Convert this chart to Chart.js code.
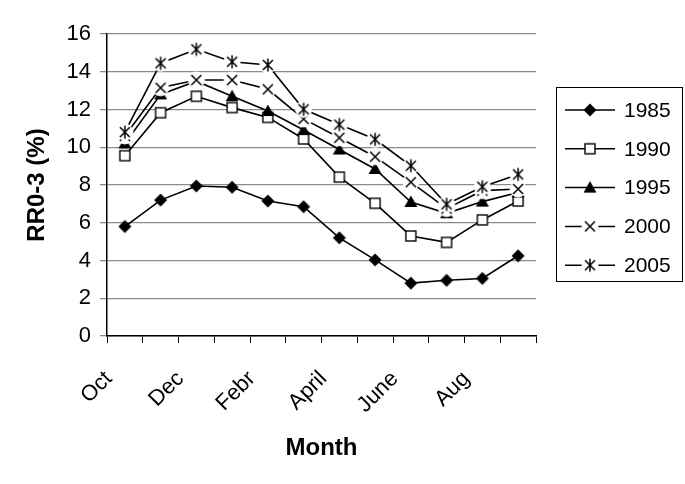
<!DOCTYPE html>
<html>
<head>
<meta charset="utf-8">
<script src="https://cdn.jsdelivr.net/npm/chart.js@4/dist/chart.umd.min.js"></script>
<style>
  html, body { margin: 0; padding: 0; background: #fff; }
  #wrap { width: 685px; height: 484px; }
</style>
</head>
<body>
<div id="wrap"><canvas id="c" width="685" height="484"></canvas></div>
<script>
// ---- data ----
const months = ['Oct','Nov','Dec','Jan','Febr','March','April','May','June','July','Aug','Sept'];
const tickLabels = ['Oct','','Dec','','Febr','','April','','June','','Aug',''];
const seriesNames = ['1985','1990','1995','2000','2005'];
const s1985 = [5.8, 7.2, 7.95, 7.88, 7.15, 6.85, 5.2, 4.03, 2.8, 2.95, 3.05, 4.25];
const s1990 = [9.55, 11.83, 12.7, 12.1, 11.58, 10.44, 8.42, 7.03, 5.3, 4.96, 6.15, 7.15];
const s1995 = [10.2, 12.8, 13.5, 12.7, 11.92, 10.91, 9.88, 8.85, 7.1, 6.5, 7.12, 7.6];
const s2000 = [10.6, 13.15, 13.56, 13.56, 13.07, 11.5, 10.5, 9.5, 8.15, 6.75, 7.7, 7.79];
const s2005 = [10.8, 14.45, 15.19, 14.53, 14.36, 12.01, 11.2, 10.42, 9.02, 6.98, 7.91, 8.56];
const yTitle = 'RR0-3 (%)';
const xTitle = 'Month';

const FONT = "'Liberation Sans', Arial, Helvetica, sans-serif";

// ---- marker images ----
function makeMarker(type) {
  const c = document.createElement('canvas');
  c.width = 24; c.height = 24;
  const g = c.getContext('2d');
  const cx = 12, cy = 12;
  g.lineWidth = 1.5;
  g.strokeStyle = '#000';
  g.fillStyle = '#000';
  if (type === 'diamond') {
    g.beginPath();
    g.moveTo(cx, cy - 6.5); g.lineTo(cx + 6.5, cy); g.lineTo(cx, cy + 6.5); g.lineTo(cx - 6.5, cy);
    g.closePath(); g.fill();
  } else if (type === 'square') {
    g.fillStyle = '#fff';
    g.fillRect(cx - 5, cy - 5, 10, 10);
    g.lineWidth = 1.4;
    g.strokeRect(cx - 5, cy - 5, 10, 10);
  } else if (type === 'triangle') {
    g.beginPath();
    g.moveTo(cx, cy - 6.5); g.lineTo(cx + 6.5, cy + 5); g.lineTo(cx - 6.5, cy + 5);
    g.closePath(); g.fill();
  } else if (type === 'x' || type === 'star') {
    g.fillStyle = '#fff';
    g.beginPath(); g.arc(cx, cy, 8.5, 0, Math.PI * 2); g.fill();
    g.beginPath();
    g.moveTo(cx - 5, cy - 5); g.lineTo(cx + 5, cy + 5);
    g.moveTo(cx + 5, cy - 5); g.lineTo(cx - 5, cy + 5);
    if (type === 'star') { g.moveTo(cx, cy - 6.5); g.lineTo(cx, cy + 6.5); }
    g.stroke();
  }
  return c;
}
const markers = [makeMarker('diamond'), makeMarker('square'), makeMarker('triangle'), makeMarker('x'), makeMarker('star')];
const allSeries = [s1985, s1990, s1995, s2000, s2005];

const datasets = allSeries.map((d, i) => ({
  label: seriesNames[i],
  data: d,
  borderColor: '#000',
  backgroundColor: '#000',
  borderWidth: 1.6,
  tension: 0,
  fill: false,
  pointStyle: markers[i],
  pointRadius: 6,
  pointHoverRadius: 6,
  order: 4 - i
}));

// ---- custom boxed legend ----
const boxedLegend = {
  id: 'boxedLegend',
  afterDraw(chart) {
    const ctx = chart.ctx;
    ctx.save();
    ctx.strokeStyle = '#000';
    ctx.lineWidth = 1;
    ctx.strokeRect(556.5, 87.5, 126, 194);
    ctx.font = '21px ' + FONT;
    ctx.textBaseline = 'middle';
    ctx.textAlign = 'left';
    ctx.fillStyle = '#000';
    chart.data.datasets.forEach((ds, i) => {
      const y = 110 + i * 38.8;
      ctx.beginPath();
      ctx.lineWidth = 1.5;
      ctx.moveTo(565, y); ctx.lineTo(615, y);
      ctx.stroke();
      const m = ds.pointStyle;
      ctx.drawImage(m, 590 - m.width / 2, y - m.height / 2);
      ctx.fillText(ds.label, 624, y + 1);
    });
    ctx.restore();
  }
};

new Chart(document.getElementById('c'), {
  type: 'line',
  data: { labels: months, datasets },
  options: {
    responsive: false,
    animation: false,
    devicePixelRatio: 1,
    layout: { padding: { left: 0, top: 34, right: 149, bottom: 0 } },
    plugins: { legend: { display: false }, tooltip: { enabled: false } },
    scales: {
      x: {
        type: 'category',
        offset: true,
        afterFit(scale) { scale.height = 148; },
        grid: { display: true, offset: true, drawOnChartArea: false, drawTicks: true, tickLength: 7, color: '#000', lineWidth: 1 },
        border: { display: true, color: '#000', width: 1.5 },
        ticks: {
          autoSkip: false,
          minRotation: 45, maxRotation: 45,
          labelOffset: -16,
          padding: 23,
          color: '#000',
          font: { family: FONT, size: 22 },
          callback: (v, i) => tickLabels[i]
        },
        title: { display: true, text: xTitle, color: '#000', font: { family: FONT, size: 24, weight: 'bold' }, padding: { top: 0, bottom: 21 } }
      },
      y: {
        min: 0, max: 16,
        afterFit(scale) { scale.width = 107; },
        grid: { color: '#8a8a8a', lineWidth: 1.3, tickLength: 7, drawTicks: true },
        border: { display: true, color: '#000', width: 1.5 },
        ticks: { stepSize: 2, padding: 9, color: '#000', font: { family: FONT, size: 22 } },
        title: { display: true, text: yTitle, color: '#000', font: { family: FONT, size: 24, weight: 'bold' }, padding: { top: 23, bottom: 0 } }
      }
    }
  },
  plugins: [boxedLegend]
});
</script>
</body>
</html>
